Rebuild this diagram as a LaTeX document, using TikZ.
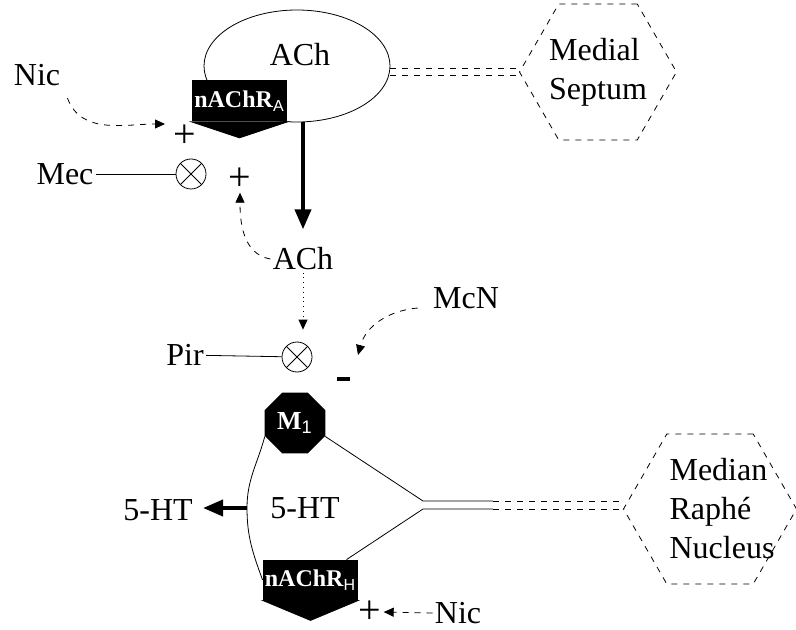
\documentclass[tikz,border=0pt]{standalone}
\usepackage{fontspec}
\setmainfont{Liberation Serif}
\setsansfont{Liberation Sans}
\usetikzlibrary{shapes.geometric,arrows.meta,calc}

\begin{document}
\begin{tikzpicture}[x=0.5pt,y=-0.5pt,
        lbl/.style={font=\fontsize{16}{19.5}\selectfont, inner sep=1pt},
        sign/.style={font=\fontsize{20}{20}\selectfont, inner sep=1pt},
        recep/.style={fill=black, text=white, font=\fontsize{12}{14}\selectfont\bfseries, inner sep=0pt, minimum width=47.5pt, minimum height=20.5pt},
        octo/.style={regular polygon, regular polygon sides=8, fill=black, text=white, font=\fontsize{13}{15}\selectfont\bfseries, inner sep=0pt, minimum size=33pt},
        blocker/.style={circle, draw, inner sep=0pt, minimum size=15pt, path picture={\draw (path picture bounding box.north west) -- (path picture bounding box.south east) (path picture bounding box.north east) -- (path picture bounding box.south west);}},
        nucleus/.style={regular polygon, regular polygon sides=6, draw, dashed, inner sep=0pt},
        thickarr/.style={line width=2pt, -{Triangle[width=8pt,length=10pt]}},
        dasharr/.style={dashed, -{Triangle[width=4.5pt,length=5pt]}}]
        \useasboundingbox (0,0) rectangle (796,630);

        % septal terminal
        \node[ellipse, draw, minimum width=93pt, minimum height=56pt] (term) at (297,66) {};
        \node[lbl] (achtop) at (300,55) {ACh};
        \node[recep] (ra) at (239.5,101) {nAChR\textsubscript{\sffamily\mdseries A}};
        \filldraw (ra.south west) -- (ra.south east) -- ($(ra.south)+(0,16)$) -- cycle;
        \node[nucleus, minimum size=78.5pt, label={[lbl,align=left]center:Medial\\Septum}] (ms) at (598,72) {};
        \draw[dashed, double, double distance=3.1pt] (ms.west -| term.east) -- (ms.west);

        \node[lbl] (nica) at (37,75) {Nic}; \node[sign] (plusa) at (185,136) {+};
        \draw[dasharr] ([shift={(5,10)}]nica.south east) to[out=-70,in=180] ([shift={(-20,-12)}]plusa.center);
        \node[lbl] (mec) at (65,174) {Mec}; \node[blocker] (blka) at (191,174) {}; \draw (mec) -- (blka);
        \node[sign] (plusb) at (240,179) {+};

        % released ACh
        \node[lbl] (achmid) at (303,259) {ACh};
        \draw[thickarr, shorten >=8pt] (term.south -| achmid) -- (achmid.north);
        \draw[dasharr] (achmid.west) to[out=170,in=-90] (plusb.south);
        \node[blocker] (blkb) at (297,357) {};
        \draw[dotted, -{Triangle[width=4.5pt,length=5pt]}, shorten >=6pt] (achmid.south) -- (achmid.south |- blkb.north);
        \node[lbl] (pir) at (185,355) {Pir}; \draw (pir) -- (blkb);
        \node[lbl] (mcn) at (466,298) {McN};
        \node[fill, inner sep=0pt, minimum width=6.5pt, minimum height=2pt] (minus) at (343,379) {};
        \draw[dasharr] ([shift={(-13,10)}]mcn.west) to[out=185,in=75] ([shift={(15,-24)}]minus.center);

        % raphe terminal
        \node[octo] (m1) at (295,423) {M\textsubscript{\sffamily\mdseries 1}};
        \node[recep, minimum height=20pt] (rh) at (310.5,580) {nAChR\textsubscript{\sffamily\mdseries H}};
        \filldraw (rh.south west) -- (rh.south east) -- ($(rh.south)+(0,20)$) -- cycle;
        \node[nucleus, minimum size=86.5pt, label={[lbl,align=left,xshift=6pt]center:Median\\Raph\'e\\Nucleus}] (mrn) at (710,509) {};
        \coordinate (jt) at (423,501); \coordinate (jb) at (423,509); \coordinate (bow) at (247,508);
        \draw (m1.-24) -- (jt) -- ++(70,0) coordinate (jtm); \draw ([xshift=18pt]rh.north) -- (jb) -- ++(70,0) coordinate (jbm);
        \draw[dashed] (jtm) -- (jtm -| mrn.west); \draw[dashed] (jbm) -- (mrn.west);
        \draw (m1.204) to[out=-105,in=90] (bow) to[out=-90,in=110] (rh.west);
        \node[lbl] (htin) at (305,508) {5-HT};
        \node[lbl] (htout) at (158,510) {5-HT};
        \draw[thickarr, shorten >=4pt] (bow) -- (bow -| htout.east);
        \node[sign] (plusc) at (370,612) {+}; \node[lbl] (nicb) at (458,613) {Nic};
        \draw[dasharr] (nicb.west) -- (plusc.east);
\end{tikzpicture}
\end{document}
